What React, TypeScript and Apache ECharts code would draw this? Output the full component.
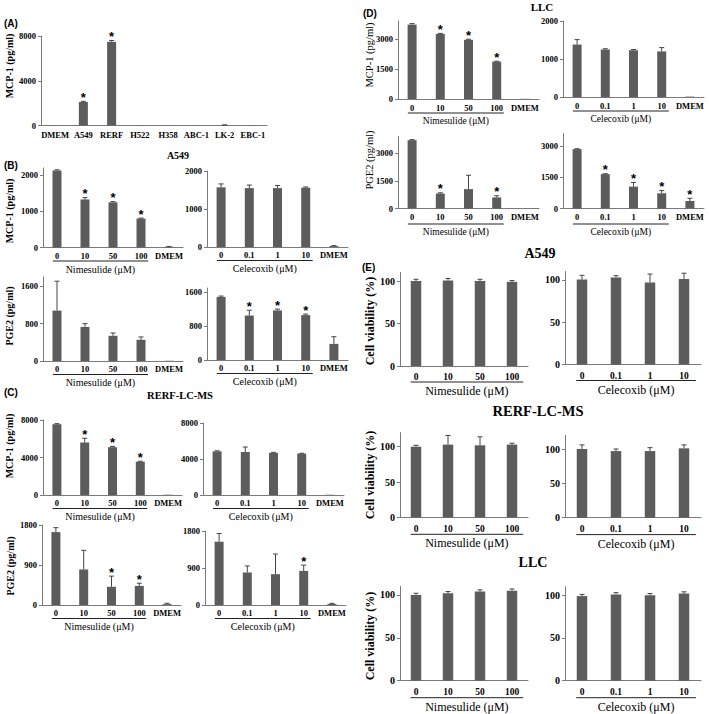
import React, { useEffect, useRef } from "react";
import * as echarts from "echarts";

const SERIF = '"Liberation Serif", "Times New Roman", serif';
const SANS = '"Liberation Sans", Arial, sans-serif';
const BAR = "#5c5c5c";
const ERR = "#444444";
const AXIS = "#7a7a7a";

// ---------------- data ----------------
// (A) MCP-1 secretion by cell line
const cellLines = ["DMEM", "A549", "RERF", "H522", "H358", "ABC-1", "LK-2", "EBC-1"];
const aMcp = [20, 2100, 7480, 15, 10, 10, 40, 15];
const aMcpErr = [0, 60, 120, 0, 0, 0, 20, 0];
const aStars = [1, 2];

const nimCats = ["0", "10", "50", "100", "DMEM"];
const celCats = ["0", "0.1", "1", "10", "DMEM"];
const nimCatsE = ["0", "10", "50", "100"];
const celCatsE = ["0", "0.1", "1", "10"];

// (B) A549
const bMcpNim = [2130, 1330, 1250, 800, 20];
const bMcpNimErr = [20, 50, 20, 15, 10];
const bMcpNimStars = [1, 2, 3];
const bMcpCel = [1570, 1550, 1550, 1560, 25];
const bMcpCelErr = [90, 80, 70, 20, 10];
const bMcpCelStars: number[] = [];
const bPgeNim = [1080, 730, 540, 455, 5];
const bPgeNimErr = [630, 70, 60, 60, 0];
const bPgeNimStars: number[] = [];
const bPgeCel = [1490, 1050, 1170, 1060, 380];
const bPgeCelErr = [20, 125, 30, 25, 170];
const bPgeCelStars = [1, 2, 3];

// (C) RERF-LC-MS
const cMcpNim = [7550, 5600, 5100, 3550, 30];
const cMcpNimErr = [60, 450, 80, 50, 0];
const cMcpNimStars = [1, 2, 3];
const cMcpCel = [4850, 4780, 4680, 4600, 30];
const cMcpCelErr = [60, 550, 60, 40, 0];
const cMcpCelStars: number[] = [];
const cPgeNim = [1640, 800, 410, 430, 20];
const cPgeNimErr = [100, 430, 240, 60, 20];
const cPgeNimStars = [2, 3];
const cPgeCel = [1540, 790, 750, 830, 25];
const cPgeCelErr = [200, 160, 490, 140, 15];
const cPgeCelStars = [3];

// (D) LLC
const dMcpNim = [3720, 3250, 2960, 1870, 10];
const dMcpNimErr = [50, 30, 30, 20, 0];
const dMcpNimStars = [1, 2, 3];
const dMcpCel = [1380, 1250, 1230, 1200, 10];
const dMcpCelErr = [130, 20, 20, 100, 0];
const dMcpCelStars: number[] = [];
const dPgeNim = [3700, 810, 1050, 600, 0];
const dPgeNimErr = [30, 40, 750, 90, 0];
const dPgeNimStars = [1, 3];
const dPgeCel = [2850, 1650, 1050, 730, 360];
const dPgeCelErr = [20, 20, 200, 130, 130];
const dPgeCelStars = [1, 2, 3, 4];

// (E) cell viability
const eA549Nim = [100, 100.5, 100, 99];
const eA549NimErr = [2, 2.5, 2, 1.5];
const eA549Cel = [100.5, 103, 97, 101];
const eA549CelErr = [5, 2, 10, 7];
const eRerfNim = [100, 103, 102, 103];
const eRerfNimErr = [2, 13, 12, 2];
const eRerfCel = [100, 97, 97, 101];
const eRerfCelErr = [6, 3, 5, 5];
const eLlcNim = [100, 102, 104, 105];
const eLlcNimErr = [2, 2, 2, 2];
const eLlcCel = [99, 101, 100, 102];
const eLlcCelErr = [2, 2, 2, 2];
const noStars: number[] = [];

// ---------------- layout ----------------
type Layout = {
  left: number; top: number; width: number; height: number;
  max: number; interval: number;
  tick: number; cat: number; bar: number; margin: number;
  yName?: string; yNameFont?: number; yNameBold?: boolean; yNameX?: number; yNameY?: number;
  xName?: string; xNameFont?: number; ulOff?: number; nameOff?: number; ulA?: number; ulB?: number;
};

const LC = { tick: 8.5, cat: 8.5, bar: 9, margin: 3.5 };
const LCX = { xNameFont: 10, ulOff: 13.5, nameOff: 21.5, ulA: 0.35, ulB: 3.75 };
const DC = { tick: 8.5, cat: 8.5, bar: 9, margin: 4 };
const DCX = { xNameFont: 9.5, ulOff: 14, nameOff: 21.5, ulA: 0.35, ulB: 3.75 };
const EC = { tick: 10, cat: 9.5, bar: 10.5, margin: 6 };
const ECX = { xNameFont: 12, ulOff: 16, nameOff: 25, ulA: 0.33, ulB: 3.85 };

const NIM = "Nimesulide (μM)";
const CEL = "Celecoxib (μM)";
const MCP = "MCP-1 (pg/ml)";
const PGE = "PGE2 (pg/ml)";
const VIA = "Cell viability (%)";

type Panel = { cats: string[]; vals: number[]; errs: number[]; stars: number[]; L: Layout };

const panels: Panel[] = [
  { cats: cellLines, vals: aMcp, errs: aMcpErr, stars: aStars,
    L: { left: 41, top: 36, width: 226, height: 89.5, max: 8000, interval: 4000, ...LC, margin: 4.5,
      yName: MCP, yNameFont: 10, yNameBold: true, yNameX: 9, yNameY: 66 } },
  { cats: nimCats, vals: bMcpNim, errs: bMcpNimErr, stars: bMcpNimStars,
    L: { left: 43, top: 168, width: 140, height: 79.5, max: 2200, interval: 1000, ...LC,
      yName: MCP, yNameFont: 10, yNameBold: true, yNameX: 9, yNameY: 211, xName: NIM, ...LCX } },
  { cats: celCats, vals: bMcpCel, errs: bMcpCelErr, stars: bMcpCelStars,
    L: { left: 207, top: 171, width: 141, height: 76, max: 2000, interval: 1000, ...LC, xName: CEL, ...LCX } },
  { cats: nimCats, vals: bPgeNim, errs: bPgeNimErr, stars: bPgeNimStars,
    L: { left: 43, top: 277, width: 140, height: 84, max: 1800, interval: 800, ...LC,
      yName: PGE, yNameFont: 10, yNameBold: true, yNameX: 9, yNameY: 316, xName: NIM, ...LCX } },
  { cats: celCats, vals: bPgeCel, errs: bPgeCelErr, stars: bPgeCelStars,
    L: { left: 207, top: 288, width: 141, height: 72, max: 1700, interval: 800, ...LC, xName: CEL, ...LCX } },
  { cats: nimCats, vals: cMcpNim, errs: cMcpNimErr, stars: cMcpNimStars,
    L: { left: 43, top: 420, width: 139, height: 75, max: 8000, interval: 4000, ...LC,
      yName: MCP, yNameFont: 10, yNameBold: true, yNameX: 9, yNameY: 446, xName: NIM, ...LCX } },
  { cats: celCats, vals: cMcpCel, errs: cMcpCelErr, stars: cMcpCelStars,
    L: { left: 203, top: 423, width: 141, height: 72, max: 8000, interval: 4000, ...LC, xName: CEL, ...LCX } },
  { cats: nimCats, vals: cPgeNim, errs: cPgeNimErr, stars: cPgeNimStars,
    L: { left: 42, top: 525, width: 139, height: 80, max: 1800, interval: 900, ...LC,
      yName: PGE, yNameFont: 10, yNameBold: true, yNameX: 10, yNameY: 566, xName: NIM, ...LCX } },
  { cats: celCats, vals: cPgeCel, errs: cPgeCelErr, stars: cPgeCelStars,
    L: { left: 205, top: 531, width: 141, height: 74, max: 1800, interval: 900, ...LC, xName: CEL, ...LCX } },
  { cats: nimCats, vals: dMcpNim, errs: dMcpNimErr, stars: dMcpNimStars,
    L: { left: 398, top: 21, width: 141, height: 78, max: 3900, interval: 1500, ...DC,
      yName: MCP, yNameFont: 10.5, yNameBold: false, yNameX: 369, yNameY: 55, xName: NIM, ...DCX } },
  { cats: celCats, vals: dMcpCel, errs: dMcpCelErr, stars: dMcpCelStars,
    L: { left: 563, top: 21, width: 141, height: 76, max: 2000, interval: 1000, ...DC, xName: CEL, ...DCX } },
  { cats: nimCats, vals: dPgeNim, errs: dPgeNimErr, stars: dPgeNimStars,
    L: { left: 398, top: 136.5, width: 141, height: 72, max: 3900, interval: 1500, ...DC,
      yName: PGE, yNameFont: 10.5, yNameBold: false, yNameX: 369, yNameY: 160, xName: NIM, ...DCX, ulOff: 15.5, nameOff: 23.5 } },
  { cats: celCats, vals: dPgeCel, errs: dPgeCelErr, stars: dPgeCelStars,
    L: { left: 563, top: 133.5, width: 141, height: 75, max: 3600, interval: 1500, ...DC, xName: CEL, ...DCX, ulOff: 15.5, nameOff: 23.5 } },
  { cats: nimCatsE, vals: eA549Nim, errs: eA549NimErr, stars: noStars,
    L: { left: 400, top: 272.5, width: 128, height: 93.5, max: 110, interval: 50, ...EC,
      yName: VIA, yNameFont: 12, yNameBold: true, yNameX: 370, yNameY: 321, xName: NIM, ...ECX } },
  { cats: celCatsE, vals: eA549Cel, errs: eA549CelErr, stars: noStars,
    L: { left: 565, top: 271.5, width: 136, height: 93, max: 110, interval: 50, ...EC, xName: CEL, ...ECX } },
  { cats: nimCatsE, vals: eRerfNim, errs: eRerfNimErr, stars: noStars,
    L: { left: 400, top: 432.6, width: 128, height: 84.7, max: 120, interval: 50, ...EC, margin: 6.5,
      yName: VIA, yNameFont: 12, yNameBold: true, yNameX: 370, yNameY: 475, xName: NIM, ...ECX, ulOff: 17, nameOff: 26 } },
  { cats: celCatsE, vals: eRerfCel, errs: eRerfCelErr, stars: noStars,
    L: { left: 565, top: 435.3, width: 136, height: 82.3, max: 120, interval: 50, ...EC, margin: 6.5,
      xName: CEL, ...ECX, ulOff: 17, nameOff: 26 } },
  { cats: nimCatsE, vals: eLlcNim, errs: eLlcNimErr, stars: noStars,
    L: { left: 400, top: 586.4, width: 128, height: 94.3, max: 110, interval: 50, ...EC, margin: 6.5,
      yName: VIA, yNameFont: 12, yNameBold: true, yNameX: 370, yNameY: 636, xName: NIM, ...ECX, ulOff: 17, nameOff: 26 } },
  { cats: celCatsE, vals: eLlcCel, errs: eLlcCelErr, stars: noStars,
    L: { left: 565, top: 586.7, width: 136, height: 94, max: 110, interval: 50, ...EC, margin: 6.5,
      xName: CEL, ...ECX, ulOff: 17, nameOff: 26 } },
];

// titles and panel letters
const titles = [
  { text: "A549", x: 178, y: 155, size: 10 },
  { text: "RERF-LC-MS", x: 180, y: 395, size: 10.5 },
  { text: "LLC", x: 542, y: 7, size: 11 },
  { text: "A549", x: 540, y: 253, size: 14 },
  { text: "RERF-LC-MS", x: 538, y: 411, size: 14.5 },
  { text: "LLC", x: 533, y: 562, size: 14 },
];
const letters = [
  { text: "(A)", x: 4, y: 23 },
  { text: "(B)", x: 4, y: 165 },
  { text: "(C)", x: 4, y: 392 },
  { text: "(D)", x: 363, y: 13 },
  { text: "(E)", x: 362, y: 267 },
];

function renderErr(params: any, api: any) {
  const k = api.value(0);
  const v = api.value(1);
  const e = api.value(2);
  const s = api.value(3);
  const p0 = api.coord([k, v]);
  const p1 = api.coord([k, v + e]);
  const ch: any[] = [];
  if (e > 0) {
    ch.push({ type: "line", shape: { x1: p0[0], y1: p0[1], x2: p1[0], y2: p1[1] }, style: { stroke: ERR, lineWidth: 1 } });
    ch.push({ type: "line", shape: { x1: p1[0] - 2.5, y1: p1[1], x2: p1[0] + 2.5, y2: p1[1] }, style: { stroke: ERR, lineWidth: 1 } });
  }
  if (s) {
    ch.push({
      type: "text",
      style: { text: "*", x: p1[0], y: p1[1] - 4, textAlign: "center", textVerticalAlign: "middle",
        font: `bold 13px ${SANS}`, fill: "#000" },
    });
  }
  return { type: "group", children: ch };
}

function buildOption() {
  const grid: any[] = [];
  const xAxis: any[] = [];
  const yAxis: any[] = [];
  const series: any[] = [];
  const graphic: any[] = [];

  panels.forEach((p, i) => {
    const L = p.L;
    grid.push({ left: L.left, top: L.top, width: L.width, height: L.height, containLabel: false, outerBoundsMode: "none" });
    xAxis.push({
      type: "category", gridIndex: i, data: p.cats,
      axisTick: { show: false },
      axisLine: { show: true, lineStyle: { color: AXIS, width: 1 } },
      axisLabel: { interval: 0, margin: L.margin, fontSize: L.cat, fontWeight: "bold", fontFamily: SERIF, color: "#000", hideOverlap: false },
      splitLine: { show: false },
    });
    const iv = L.interval;
    yAxis.push({
      type: "value", gridIndex: i, min: 0, max: L.max, interval: iv,
      axisLine: { show: true, lineStyle: { color: AXIS, width: 1 } },
      axisTick: { show: true, inside: false, length: 3, lineStyle: { color: AXIS } },
      axisLabel: {
        showMaxLabel: L.max % iv === 0, showMinLabel: true, margin: 5,
        fontSize: L.tick, fontWeight: "bold", fontFamily: SERIF, color: "#000",
        formatter: (v: number) => (v % iv === 0 ? String(v) : ""),
      },
      splitLine: { show: false },
    });
    series.push({
      type: "bar", xAxisIndex: i, yAxisIndex: i, data: p.vals, barWidth: L.bar,
      itemStyle: { color: BAR }, silent: true,
    });
    series.push({
      type: "custom", xAxisIndex: i, yAxisIndex: i, silent: true, z: 5,
      data: p.vals.map((v, k) => [k, v, p.errs[k], p.stars.includes(k) ? 1 : 0]),
      encode: { x: 0, y: 1 },
      renderItem: renderErr,
    });
    if (L.yName) {
      graphic.push({ type: "text", silent: true, x: L.yNameX, y: L.yNameY, rotation: Math.PI / 2,
        style: { text: L.yName, font: `${L.yNameBold ? "bold " : ""}${L.yNameFont}px ${SERIF}`, fill: "#000",
          textAlign: "center", textVerticalAlign: "middle" } });
    }
    if (L.xName) {
      const c = L.width / p.cats.length;
      const x1 = L.left + c * (L.ulA as number);
      const x2 = L.left + c * (L.ulB as number);
      const axisY = L.top + L.height;
      graphic.push({ type: "line", silent: true, shape: { x1, y1: axisY + (L.ulOff as number), x2, y2: axisY + (L.ulOff as number) }, style: { stroke: "#222", lineWidth: 1 } });
      graphic.push({ type: "text", silent: true, x: (x1 + x2) / 2, y: axisY + (L.nameOff as number),
        style: { text: L.xName, font: `${L.xNameFont}px ${SERIF}`, fill: "#000", textAlign: "center", textVerticalAlign: "middle" } });
    }
  });

  titles.forEach((t) => {
    graphic.push({ type: "text", silent: true, x: t.x, y: t.y,
      style: { text: t.text, font: `bold ${t.size}px ${SERIF}`, fill: "#000", textAlign: "center", textVerticalAlign: "middle" } });
  });
  letters.forEach((t) => {
    graphic.push({ type: "text", silent: true, x: t.x, y: t.y,
      style: { text: t.text, font: `bold 10px ${SANS}`, fill: "#000", textAlign: "left", textVerticalAlign: "middle" } });
  });

  return {
    animation: false,
    backgroundColor: "#ffffff",
    grid, xAxis, yAxis, series, graphic,
  };
}

export default function App() {
  const ref = useRef<HTMLDivElement>(null);
  useEffect(() => {
    if (!ref.current) return;
    const chart = echarts.init(ref.current, undefined, { renderer: "svg" });
    chart.setOption(buildOption() as any);
    return () => chart.dispose();
  }, []);
  return (
    <div
      ref={ref}
      style={{ position: "absolute", left: 0, top: 0, width: 709, height: 714, background: "#fff" }}
    />
  );
}
